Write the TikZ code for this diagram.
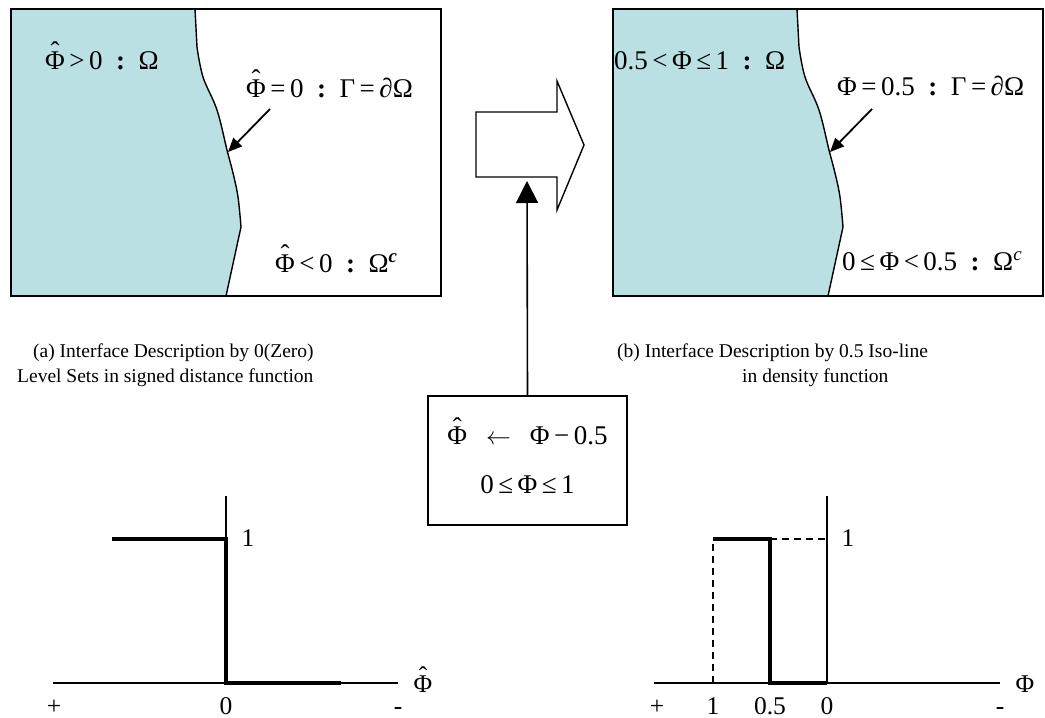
\documentclass[tikz,border=0pt]{standalone}
\usepackage{amsmath}
\usepackage{fontspec}
\setmainfont{Liberation Serif}
\usetikzlibrary{positioning, arrows.meta, calc}

\definecolor{phasefill}{RGB}{186,224,227}
\newcommand{\phihat}{\ooalign{Φ\cr\hidewidth\raisebox{0.3em}{ˆ}\hidewidth\cr}}
\newcommand{\sep}{\hspace{0.5em}\textbf{:}\hspace{0.5em}}

\begin{document}
\begin{tikzpicture}[x=1pt, y=-1pt,
  frame/.style={draw, line width=1.8pt},
  rim/.style={draw, line width=1.4pt},
  pointer/.style={-{Triangle[length=14pt, width=12pt]}, line width=1.8pt},
  lift/.style={-{Triangle[length=22pt, width=22pt]}, line width=1.6pt},
  lbl/.style={font=\fontsize{27}{31}\selectfont, inner sep=0pt},
  caption/.style={font=\fontsize{19.5}{24}\selectfont, inner sep=0pt, anchor=base west},
  tick/.style={font=\fontsize{25.5}{29}\selectfont, inner sep=0pt, anchor=base},
  axisline/.style={line width=1.5pt},
  jump/.style={line width=4pt},
  guide/.style={line width=1.3pt, dash pattern=on 7pt off 5pt},
]
\useasboundingbox (0,0) rectangle (1045,718);

% Top: the two domains, same interface shape
\foreach \dx in {0,602} {
  \begin{scope}[xshift=\dx]
    \fill[phasefill] (11,9) -- (195,9) -- (197,47)
      -- plot[smooth, tension=0.6] coordinates {(197,47) (203,77) (217,110) (227,150) (233,173) (238,197) (241,227)}
      -- (226,296) -- (11,296) -- cycle;
    \draw[line width=1.4pt] (195,9) -- (197,47)
      -- plot[smooth, tension=0.6] coordinates {(197,47) (203,77) (217,110) (227,150) (233,173) (238,197) (241,227)}
      -- (226,296);
    \draw[frame] (11,9) rectangle (441,296);
    \coordinate (tail\dx) at (270,109);
    \coordinate (hit\dx) at (228,152);
    \draw[pointer] (tail\dx) -- (hit\dx);
  \end{scope}
}

% Left: signed distance labels
\node[lbl, anchor=base west] (inA) at (45,69) {\phihat\,>\,0\sep Ω};
\node[lbl, anchor=base west] (rimA) at (246,97) {\phihat\,=\,0\sep Γ\,=\,∂Ω};
\node[lbl, anchor=base west] (outA) at (275,272) {\phihat\,<\,0\sep Ω\textsuperscript{\textbf{\textit{c}}}};
\node[caption] (capA) at (33,357) {(a) Interface Description by 0(Zero)};
\node[caption] (capAb) at (17,382) {Level Sets in signed distance function};

% Right: density labels
\node[lbl, anchor=base west] (inB) at (614,69) {0.5\,<\,Φ\,≤\,1\sep Ω};
\node[lbl, anchor=base west] (rimB) at (837,95) {Φ\,=\,0.5\sep Γ\,=\,∂Ω};
\node[lbl, anchor=base west] (outB) at (842,270) {0\,≤\,Φ\,<\,0.5\sep Ω\textsuperscript{\textit{c}}};
\node[caption] (capB) at (617,357) {(b) Interface Description by 0.5 Iso-line};
\node[caption] (capBb) at (742,382) {in density function};

% Middle: block arrow and the mapping
\draw[rim, fill=white] (476,112) -- (557,112) -- (557,81) -- (584,145)
  -- (557,210) -- (557,177) -- (476,177) -- cycle;
\coordinate (blockfoot) at (527,181);
\node[frame, minimum width=199pt, minimum height=129pt, align=center,
      font=\fontsize{27}{31}\selectfont] (swap) at (527.5,460.5)
  {\phihat\hspace{0.7em}\ensuremath{\leftarrow}\hspace{0.7em}Φ\,−\,0.5\\[18pt]0\,≤\,Φ\,≤\,1};
\draw[lift] (swap.north) -- (blockfoot);

% Bottom left: step in phi-hat
\draw[axisline] (53,683) -- (398,683);
\draw[axisline] (226,496) -- (226,683);
\draw[jump] (112,539) -- (226,539) -- (226,683) -- (341,683);
\node[tick] (oneA) at (248,546) {1};
\node[tick] (plusA) at (54,714) {+};
\node[tick] (zeroA) at (226,714) {0};
\node[tick] (minusA) at (398,714) {-};
\node[tick] (axA) at (423,692) {\phihat};

% Bottom right: step in phi
\draw[axisline] (654,683) -- (1000,683);
\draw[axisline] (827,496) -- (827,683);
\draw[guide] (713,683) -- (713,539);
\draw[guide] (770,539) -- (827,539);
\draw[jump] (713,539) -- (770,539) -- (770,683) -- (827,683);
\node[tick] (oneB) at (848,546) {1};
\node[tick] (plusB) at (657,714) {+};
\node[tick] (fullB) at (713,714) {1};
\node[tick] (halfB) at (770,714) {0.5};
\node[tick] (zeroB) at (827,714) {0};
\node[tick] (minusB) at (1000,714) {-};
\node[tick] (axB) at (1025,692) {Φ};

\end{tikzpicture}
\end{document}
